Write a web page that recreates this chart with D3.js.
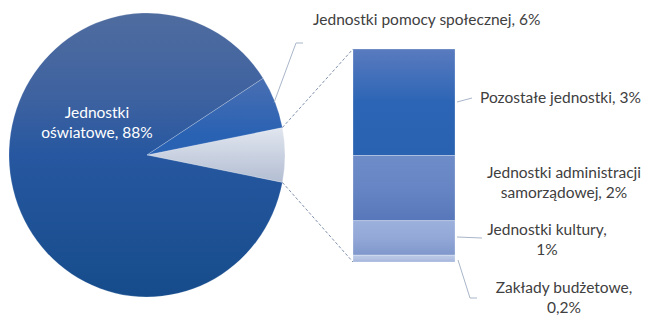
<!DOCTYPE html>
<html><head><meta charset="utf-8">
<script src="https://cdn.jsdelivr.net/npm/d3@7"></script>
<style>
html,body{margin:0;padding:0;background:#fff;}
svg{display:block;}
text{font-family:Lato,"Open Sans",sans-serif;}
</style></head>
<body>
<script>
// ---- data ----
const pieCategories = ["Jednostki oświatowe", "Jednostki pomocy społecznej"];
const pieValues = [88, 6];
const pieValueLabels = ["88%", "6%"];
const barCategories = ["Pozostałe jednostki", "Jednostki administracji samorządowej", "Jednostki kultury", "Zakłady budżetowe"];
const barValues = [3.1, 1.9, 1.0, 0.2];
const barValueLabels = ["3%", "2%", "1%", "0,2%"];

const W = 646, H = 320;
const svg = d3.select("body").append("svg").attr("width", W).attr("height", H);
const defs = svg.append("defs");

function grad(id, y1, y2, stops) {
  const g = defs.append("linearGradient").attr("id", id)
    .attr("gradientUnits", "userSpaceOnUse").attr("x1", 0).attr("x2", 0).attr("y1", y1).attr("y2", y2);
  stops.forEach(([o, c]) => g.append("stop").attr("offset", o).attr("stop-color", c));
}

// pie geometry
const cx = 147, cy = 155, r = 138, sy = 142 / 138;
const otherTotal = d3.sum(barValues);
const pieData = [
  {key: "other", value: otherTotal},
  {key: pieCategories[0], value: pieValues[0], idx: 0},
  {key: pieCategories[1], value: pieValues[1], idx: 1}
];
const total = d3.sum(pieData, d => d.value);
const otherAng = otherTotal / total * 2 * Math.PI;
const start = Math.PI / 2 - otherAng / 2;
const pie = d3.pie().value(d => d.value).sort(null).startAngle(start).endAngle(start + 2 * Math.PI);
const arcs = pie(pieData);
const arc = d3.arc().innerRadius(0).outerRadius(r);

grad("gMain", -r, r, [[0, "#4f6c9f"], [0.3, "#3e62a0"], [0.5, "#2657a0"], [1, "#164c8b"]]);
grad("gHelp", -r * 0.55, -r * 0.15, [[0, "#4a6fb2"], [1, "#2a62b3"]]);
grad("gOther", -r * 0.2, r * 0.2, [[0, "#e2e7f0"], [1, "#b2bdd2"]]);
const fills = {"other": "url(#gOther)"};
fills[pieCategories[0]] = "url(#gMain)";
fills[pieCategories[1]] = "url(#gHelp)";

const pg = svg.append("g").attr("transform", `translate(${cx},${cy}) scale(1,${sy})`);
pg.selectAll("path").data(arcs).join("path")
  .attr("d", arc)
  .attr("fill", d => fills[d.data.key])
  .attr("stroke", "rgba(255,255,255,0.35)")
  .attr("stroke-width", 0.6);

function edge(a, rr) { return [cx + rr * Math.sin(a), cy - rr * Math.cos(a) * sy]; }

// bar
const barX0 = 353, barX1 = 455, barTop = 49, barBot = 262;
const yBar = d3.scaleLinear().domain([0, otherTotal]).range([barTop, barBot]);
const cum = d3.cumsum(barValues);
const barData = barValues.map((v, i) => ({cat: barCategories[i], v, y0: cum[i] - v, y1: cum[i], i}));
const barGrads = [["#5a7bbf", "#2c65b5", "#2962b0"], ["#6e8cc8", "#6785c4", "#5677ba"], ["#9cb0dc", "#93a8d7", "#7f97cc"], ["#bccae8", "#b5c3e3", "#a3b4dc"]];
barData.forEach((d, i) => {
  grad("gBar" + i, yBar(d.y0), yBar(d.y1), [[0, barGrads[i][0]], [0.5, barGrads[i][1]], [1, barGrads[i][2]]]);
});
svg.append("g").selectAll("rect").data(barData).join("rect")
  .attr("x", barX0).attr("width", barX1 - barX0)
  .attr("y", d => yBar(d.y0)).attr("height", d => yBar(d.y1) - yBar(d.y0))
  .attr("fill", (d, i) => `url(#gBar${i})`)
  .attr("stroke", "rgba(255,255,255,0.45)").attr("stroke-width", 0.6);

// dashed connectors
const oArc = arcs[0];
const pTop = edge(oArc.startAngle, r), pBot = edge(oArc.endAngle, r);
svg.append("g").selectAll("line").data([[pTop, [barX0, barTop]], [pBot, [barX0, barBot]]]).join("line")
  .attr("x1", d => d[0][0]).attr("y1", d => d[0][1]).attr("x2", d => d[1][0]).attr("y2", d => d[1][1])
  .attr("stroke", "#7f91ad").attr("stroke-width", 1).attr("stroke-dasharray", "3,2");

// leader lines
const lineC = "#a9b6ca";
const helpArc = arcs[2];
const hp = edge((helpArc.startAngle + helpArc.endAngle) / 2, r - 1);
const leaders = [
  [hp, [296, 43], [303, 43]],
  [[457, 102], [472, 98]],
  [[457, 237], [482, 238]],
  [[458, 260], [470, 298], [477, 298]]
];
svg.append("g").selectAll("path").data(leaders).join("path")
  .attr("d", d => d3.line()(d)).attr("fill", "none").attr("stroke", lineC).attr("stroke-width", 1);

// labels
const fs = 15.5;
const tc = "#404040";
function label(lines, x, y, anchor, color) {
  const t = svg.append("text").attr("font-size", fs).attr("fill", color || tc).attr("text-anchor", anchor);
  lines.forEach((s, i) => t.append("tspan").attr("x", x).attr("y", y + i * 20).text(s));
}
label(["Jednostki", "oświatowe, " + pieValueLabels[0]], 97, 118, "middle", "#ffffff");
label([pieCategories[1] + ", " + pieValueLabels[1]], 313, 25, "start");
label([barCategories[0] + ", " + barValueLabels[0]], 480, 103, "start");
label(["Jednostki administracji", "samorządowej, " + barValueLabels[1]], 564, 178, "middle");
label(["Jednostki kultury,", barValueLabels[2]], 547, 235, "middle");
label(["Zakłady budżetowe,", barValueLabels[3]], 564, 293, "middle");
</script>
</body></html>
